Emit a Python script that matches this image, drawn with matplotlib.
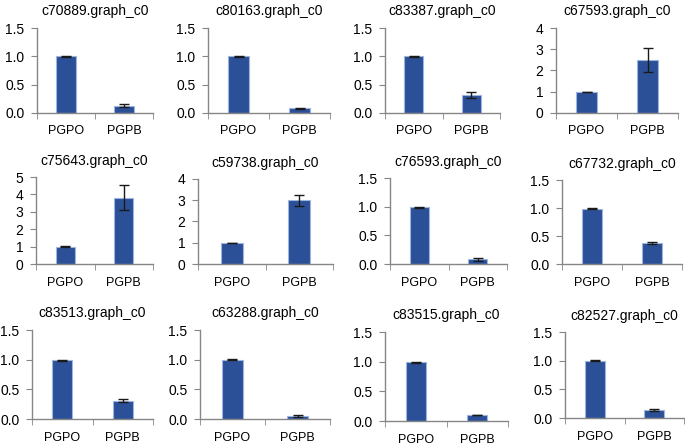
import matplotlib.pyplot as plt
import numpy as np

plt.rcParams["font.family"] = ["Liberation Sans", "DejaVu Sans"]

# data
titles = ["c70889.graph_c0", "c80163.graph_c0", "c83387.graph_c0", "c67593.graph_c0",
          "c75643.graph_c0", "c59738.graph_c0", "c76593.graph_c0", "c67732.graph_c0",
          "c83513.graph_c0", "c63288.graph_c0", "c83515.graph_c0", "c82527.graph_c0"]
groups = ["PGPO", "PGPB"]
pgpo = [1.0, 1.0, 1.0, 1.0, 1.0, 1.0, 0.99, 0.99, 0.99, 1.0, 0.99, 1.0]
pgpo_err = [0.005, 0.005, 0.005, 0.01, 0.01, 0.01, 0.005, 0.005, 0.005, 0.005, 0.005, 0.005]
pgpb = [0.13, 0.08, 0.32, 2.5, 3.8, 3.0, 0.08, 0.38, 0.31, 0.05, 0.10, 0.14]
pgpb_err = [0.025, 0.015, 0.05, 0.56, 0.72, 0.27, 0.03, 0.02, 0.02, 0.01, 0.005, 0.015]
ymax = [1.5, 1.5, 1.5, 4, 5, 4, 1.5, 1.5, 1.5, 1.5, 1.5, 1.5]
ystep = [0.5, 0.5, 0.5, 1, 1, 1, 0.5, 0.5, 0.5, 0.5, 0.5, 0.5]

# axes boxes in pixels: left, right, top, bottom
boxes = [(37, 153, 28, 113), (208, 330, 28, 113), (385, 500, 28, 113), (556, 678, 28, 113),
         (36, 153, 177, 264), (198, 333, 179, 264), (390, 507, 178, 264), (562, 682, 180, 264),
         (32, 153, 330, 419), (200, 330, 330, 419), (385, 508, 332, 421), (565, 684, 332, 418)]

W, H = 685, 444
fig = plt.figure(figsize=(W / 100, H / 100), dpi=100)
bar_color = "#2B5098"
edge_color = "#9DB5E0"
axis_color = "#868686"

for i in range(12):
    l, r, t, b = boxes[i]
    ax = fig.add_axes([l / W, 1 - b / H, (r - l) / W, (b - t) / H])
    x = np.arange(len(groups))
    ax.bar(x, [pgpo[i], pgpb[i]], width=0.33, color=bar_color, edgecolor=edge_color,
           linewidth=0.8, yerr=[pgpo_err[i], pgpb_err[i]], capsize=3.5,
           error_kw={"elinewidth": 1.0, "capthick": 1.0, "ecolor": "#1a1a1a"})
    ax.set_xlim(-0.5, 1.5)
    ax.set_ylim(0, ymax[i])
    ticks = np.arange(0, ymax[i] + 1e-9, ystep[i])
    ax.set_yticks(ticks)
    if ystep[i] < 1:
        ax.set_yticklabels([f"{v:.1f}" for v in ticks])
    else:
        ax.set_yticklabels([f"{v:.0f}" for v in ticks])
    ax.set_xticks(x)
    ax.set_xticklabels(groups)
    ax.set_xticks([-0.5, 0.5, 1.5], minor=True)
    ax.tick_params(axis="x", which="major", length=0, labelsize=9, pad=9, colors="#000000")
    ax.tick_params(axis="x", which="minor", length=4, direction="out", color=axis_color)
    ax.tick_params(axis="y", length=4, direction="out", color=axis_color, labelsize=10, pad=5)
    for s in ["top", "right"]:
        ax.spines[s].set_visible(False)
    for s in ["left", "bottom"]:
        ax.spines[s].set_color(axis_color)
        ax.spines[s].set_linewidth(1.0)
    ax.set_title(titles[i], fontsize=10, pad=9)

plt.savefig("out.png", dpi=100)
